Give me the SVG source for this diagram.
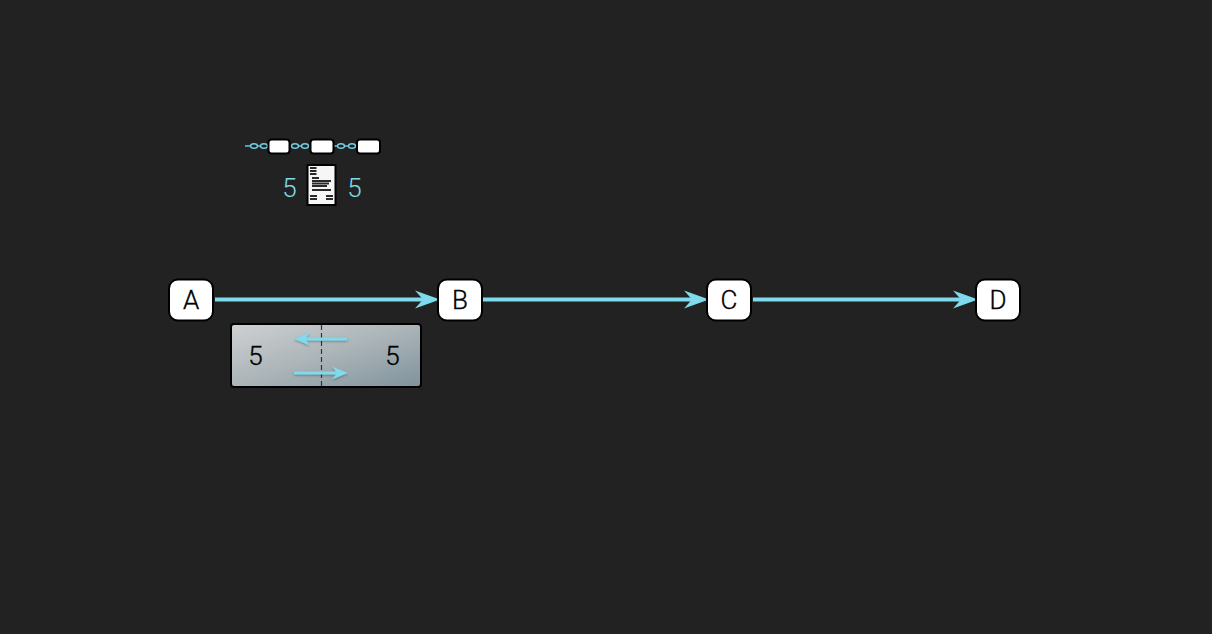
<svg xmlns="http://www.w3.org/2000/svg" width="1212" height="634" viewBox="0 0 1212 634">
<defs>
<style>
.node{fill:#fff;stroke:#000;stroke-width:2}
.lab{font-family:Roboto,"Liberation Sans",sans-serif;font-size:26px;font-weight:300;fill:#000;stroke:#000;stroke-width:.35;text-anchor:middle}
.n5{font-family:Roboto,"Liberation Sans",sans-serif;font-size:26px;font-weight:300;text-anchor:middle}
.conn{stroke:#7fdaec;stroke-width:4;fill:none}
.thin{stroke:#7fdaec;stroke-width:3;fill:none}
.chain{stroke:#74cfe2;stroke-width:1.4;fill:none}
.ink{fill:#2a2a2a}
</style>
<linearGradient id="g" x1="0" y1="0" x2="1" y2="1">
<stop offset="0" stop-color="#cfd1d2"/><stop offset="0.5" stop-color="#abb4b8"/><stop offset="1" stop-color="#7f929c"/>
</linearGradient>
<filter id="soft" x="-30%" y="-100%" width="160%" height="300%"><feDropShadow dx="0" dy="1" stdDeviation="1" flood-color="#000" flood-opacity=".35"/></filter>
<filter id="blur" x="-10%" y="-10%" width="120%" height="120%"><feGaussianBlur stdDeviation=".35"/></filter>
<path id="head" d="M0 0L-25 -9L-17 0L-25 9Z" fill="#7fdaec"/>
</defs>
<rect width="1212" height="634" fill="#222"/>
<g id="connectors">
<line class="conn" x1="215" y1="299.500" x2="425" y2="299.500"/><use href="#head" x="440" y="299.500"/>
<line class="conn" x1="483" y1="299.500" x2="694" y2="299.500"/><use href="#head" x="709" y="299.500"/>
<line class="conn" x1="753" y1="299.500" x2="963" y2="299.500"/><use href="#head" x="978" y="299.500"/>
</g>
<g id="node-A"><rect class="node" x="169" y="279.500" width="44" height="41" rx="9"/><text class="lab" x="191" y="309">A</text></g>
<g id="node-B"><rect class="node" x="438" y="279.500" width="44" height="41" rx="9"/><text class="lab" x="460" y="309">B</text></g>
<g id="node-C"><rect class="node" x="707" y="279.500" width="44" height="41" rx="9"/><text class="lab" x="729" y="309">C</text></g>
<g id="node-D"><rect class="node" x="976" y="279.500" width="44" height="41" rx="9"/><text class="lab" x="998" y="309">D</text></g>
<g id="panel">
<rect x="231" y="324" width="190" height="63" rx="3" fill="url(#g)" stroke="#000" stroke-width="2"/>
<line x1="321.500" y1="325" x2="321.500" y2="386" stroke="#333" stroke-width="1.200" stroke-dasharray="5 3"/>
<text class="lab" x="255.500" y="365">5</text>
<text class="lab" x="392.500" y="365">5</text>
<g filter="url(#soft)">
<line class="thin" x1="347" y1="339" x2="303" y2="339"/>
<path d="M294 339L310 332.500L305 339L310 345.500Z" fill="#7fdaec"/>
<line class="thin" x1="294" y1="373" x2="338" y2="373"/>
<path d="M348 373L332 366.500L337 373L332 379.500Z" fill="#7fdaec"/>
</g>
</g>
<g id="chain">
<g class="chain">
<line x1="245" y1="146" x2="250.500" y2="146"/><ellipse cx="254" cy="146" rx="3.500" ry="2.200"/><line x1="257.500" y1="146" x2="260.500" y2="146"/><ellipse cx="264" cy="146" rx="3.500" ry="2.200"/>
<ellipse cx="295" cy="146" rx="3.500" ry="2.200"/><line x1="298.500" y1="146" x2="301.500" y2="146"/><ellipse cx="305" cy="146" rx="3.500" ry="2.200"/>
<line x1="334" y1="146" x2="337.500" y2="146"/><ellipse cx="341" cy="146" rx="3.500" ry="2.200"/><line x1="344.500" y1="146" x2="348.500" y2="146"/><ellipse cx="352" cy="146" rx="3.500" ry="2.200"/>
</g>
<rect class="node" x="268.500" y="139.500" width="21" height="14" rx="3"/>
<rect class="node" x="310.500" y="139.500" width="23" height="14" rx="3"/>
<rect class="node" x="357" y="139.500" width="23" height="14" rx="3"/>
</g>
<g id="doc">
<rect x="307.500" y="165" width="28" height="40" fill="#f6f6f6" stroke="#000" stroke-width="2"/>
<g class="ink" filter="url(#blur)">
<rect x="310" y="167" width="6.500" height="2"/><rect x="310" y="170" width="6.500" height="2"/><rect x="310" y="173" width="6.500" height="2"/>
<rect x="312" y="177" width="7" height="2"/><rect x="312" y="180" width="19" height="2"/><rect x="312" y="182.500" width="17" height="2"/><rect x="312" y="185" width="15" height="2"/>
<rect x="312" y="189" width="19" height="2"/>
<rect x="310" y="195" width="7" height="2"/><rect x="310" y="198" width="7" height="2"/>
<rect x="326" y="195" width="7" height="2"/><rect x="326" y="198" width="7" height="2"/>
</g>
<text class="n5" x="289.500" y="197" fill="#7fdaec">5</text>
<text class="n5" x="354.500" y="197" fill="#7fdaec">5</text>
</g>
</svg>
